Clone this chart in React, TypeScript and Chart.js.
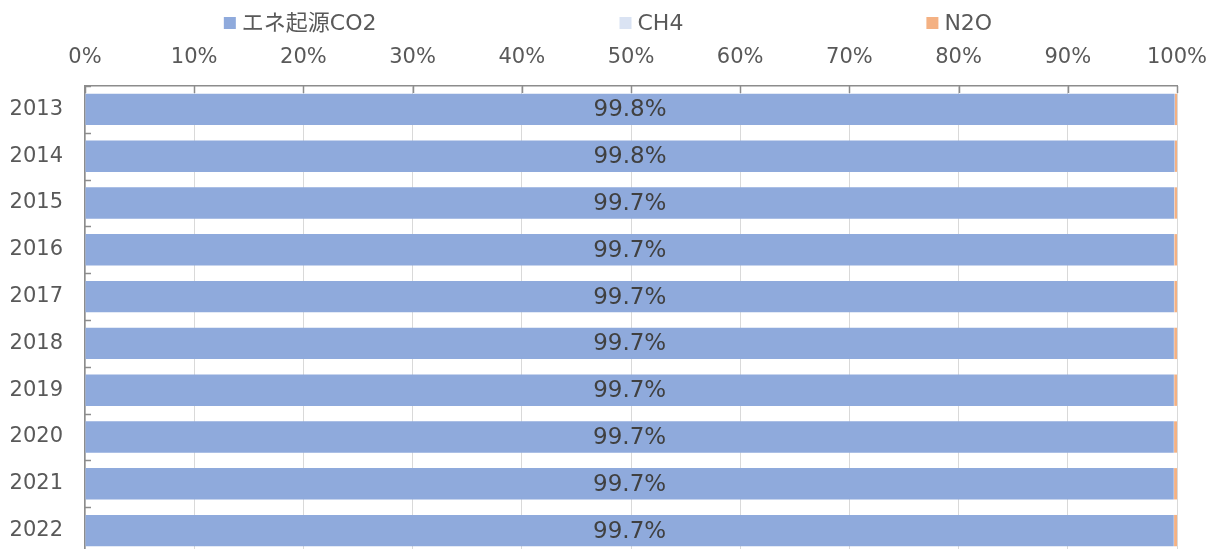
import React, { useEffect, useRef } from "react";
import { Chart, registerables } from "chart.js";

Chart.register(...registerables);

const years = ["2013", "2014", "2015", "2016", "2017", "2018", "2019", "2020", "2021", "2022"];
const co2 = [99.78, 99.77, 99.73, 99.72, 99.72, 99.71, 99.71, 99.7, 99.7, 99.7];
const ch4 = [0.03, 0.03, 0.03, 0.03, 0.03, 0.03, 0.03, 0.03, 0.03, 0.03];
const n2o = [0.19, 0.2, 0.24, 0.25, 0.25, 0.26, 0.26, 0.27, 0.27, 0.27];
const seriesNames = ["エネ起源CO2", "CH4", "N2O"];
const seriesColors = ["#8FAADC", "#DAE3F3", "#F4B183"];
const xTickValues = [0, 10, 20, 30, 40, 50, 60, 70, 80, 90, 100];

const FONT = '"DejaVu Sans", "Noto Sans CJK JP", sans-serif';
const TEXT = "#595959";
const LABEL = "#404040";
const AXIS = "#8C8C8C";
const GRID = "#D9D9D9";

const customPlugin = {
  id: "customDraw",
  afterDatasetsDraw(chart: any) {
    const ctx = chart.ctx;
    const area = chart.chartArea;
    const xs = chart.scales.x;
    const ys = chart.scales.y;
    ctx.save();
    ctx.strokeStyle = AXIS;
    ctx.lineWidth = 1.5;
    xTickValues.forEach((v) => {
      const px = Math.round(xs.getPixelForValue(v)) + 0.5;
      ctx.beginPath();
      ctx.moveTo(px, area.top);
      ctx.lineTo(px, area.top + 7);
      ctx.stroke();
    });
    for (let i = 0; i <= years.length; i++) {
      let py;
      if (i === 0) py = area.top;
      else if (i === years.length) py = area.bottom;
      else py = (ys.getPixelForValue(i - 1) + ys.getPixelForValue(i)) / 2;
      py = Math.round(py) + 0.5;
      ctx.beginPath();
      ctx.moveTo(area.left, py);
      ctx.lineTo(area.left + 6, py);
      ctx.stroke();
    }
    const meta = chart.getDatasetMeta(0);
    ctx.font = "23px " + FONT;
    ctx.fillStyle = LABEL;
    ctx.textAlign = "center";
    ctx.textBaseline = "middle";
    meta.data.forEach((el: any, i: number) => {
      const c = el.getCenterPoint();
      ctx.fillText(co2[i].toFixed(1) + "%", c.x, c.y + 1);
    });
    ctx.restore();
  },
  afterDraw(chart: any) {
    const ctx = chart.ctx;
    ctx.save();
    ctx.font = "22px " + FONT;
    ctx.textBaseline = "middle";
    ctx.textAlign = "left";
    const box = 12;
    const boxGap = 6;
    const itemGap = 243;
    const widths = seriesNames.map((n) => box + boxGap + ctx.measureText(n).width);
    const total = widths.reduce((a, b) => a + b, 0) + itemGap * (seriesNames.length - 1);
    let x = (chart.width - total) / 2;
    const cy = 23;
    seriesNames.forEach((n, i) => {
      ctx.fillStyle = seriesColors[i];
      ctx.fillRect(x, cy - box / 2, box, box);
      ctx.fillStyle = TEXT;
      ctx.fillText(n, x + box + boxGap, cy + 1);
      x += widths[i] + itemGap;
    });
    ctx.restore();
  },
};

export default function App() {
  const ref = useRef<HTMLCanvasElement | null>(null);
  useEffect(() => {
    if (!ref.current) return;
    const datasets = [co2, ch4, n2o].map((d, i) => ({
      label: seriesNames[i],
      data: d,
      backgroundColor: seriesColors[i],
      borderWidth: 0,
      barPercentage: 0.67,
      categoryPercentage: 1,
    }));
    const chart = new Chart(ref.current, {
      type: "bar",
      data: { labels: years, datasets },
      options: {
        indexAxis: "y",
        responsive: false,
        animation: false,
        maintainAspectRatio: false,
        layout: { padding: { top: 44, right: 39, left: 0, bottom: 0 } },
        plugins: {
          legend: { display: false },
          tooltip: { enabled: false },
        },
        scales: {
          x: {
            position: "top",
            stacked: true,
            min: 0,
            max: 100,
            afterBuildTicks: (scale: any) => {
              scale.ticks = xTickValues.map((v) => ({ value: v }));
            },
            afterFit: (scale: any) => {
              scale.height = 42;
              scale.paddingLeft = 0;
              scale.paddingRight = 0;
            },
            ticks: {
              color: TEXT,
              font: { family: FONT, size: 21 },
              padding: 16,
              maxRotation: 0,
              callback: (v: any) => v + "%",
            },
            grid: { color: GRID, lineWidth: 1, drawTicks: false },
            border: { display: true, color: AXIS, width: 1.5 },
          },
          y: {
            stacked: true,
            afterFit: (scale: any) => {
              scale.width = 85;
              scale.paddingTop = 0;
              scale.paddingBottom = 0;
            },
            ticks: {
              color: TEXT,
              font: { family: FONT, size: 21 },
              padding: 22,
            },
            grid: { display: false, drawTicks: false },
            border: { display: true, color: AXIS, width: 1.5 },
          },
        },
      },
      plugins: [customPlugin],
    } as any);
    return () => chart.destroy();
  }, []);
  return (
    <div style={{ position: "absolute", left: 0, top: 0, width: 1216, height: 554 }}>
      <canvas ref={ref} width={1216} height={554} style={{ width: 1216, height: 554, display: "block" }} />
    </div>
  );
}
